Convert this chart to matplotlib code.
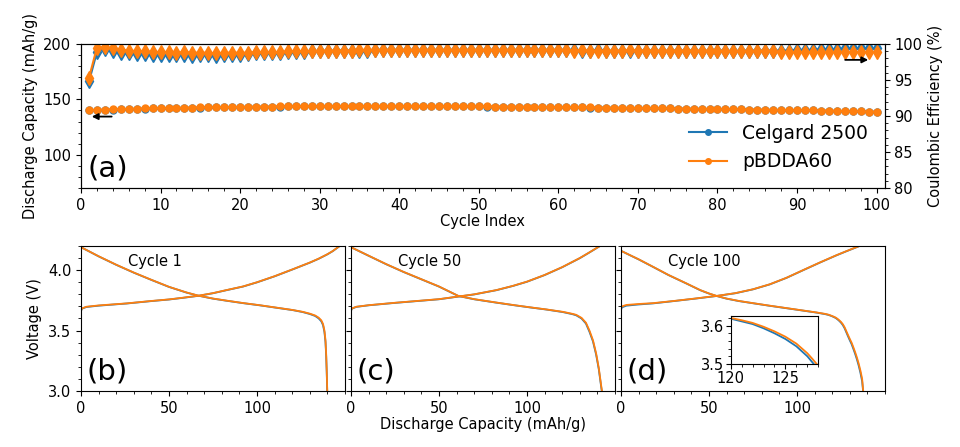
import numpy as np
import matplotlib
matplotlib.use("Agg")
import matplotlib.pyplot as plt
from matplotlib.ticker import MultipleLocator

# =========================
# DATA
# =========================
cycles = np.arange(1, 101)

cap_pbdda = [
    140.3, 140.6, 140.8, 141.0, 141.2, 141.4, 141.6, 141.8, 141.9, 142.1,
    142.2, 142.3, 142.5, 142.6, 142.7, 142.8, 142.9, 143.0, 143.1, 143.2,
    143.3, 143.4, 143.4, 143.5, 143.6, 143.6, 143.7, 143.7, 143.8, 143.8,
    143.9, 143.9, 143.9, 144.0, 144.0, 144.0, 144.0, 144.0, 144.0, 144.0,
    144.0, 144.0, 143.9, 143.9, 143.9, 143.8, 143.8, 143.7, 143.7, 143.6,
    143.6, 143.5, 143.5, 143.4, 143.3, 143.3, 143.2, 143.1, 143.1, 143.0,
    142.9, 142.8, 142.8, 142.7, 142.6, 142.5, 142.4, 142.4, 142.3, 142.2,
    142.1, 142.0, 141.9, 141.8, 141.7, 141.6, 141.5, 141.4, 141.3, 141.2,
    141.1, 141.0, 140.9, 140.8, 140.7, 140.6, 140.5, 140.4, 140.3, 140.2,
    140.1, 140.0, 139.9, 139.8, 139.6, 139.5, 139.3, 139.2, 139.0, 138.9,
]
cap_celgard = [
    140.0, 140.4, 140.6, 140.8, 141.0, 141.3, 141.5, 141.7, 141.8, 142.0,
    142.1, 142.2, 142.4, 142.5, 142.6, 142.7, 142.8, 142.9, 143.0, 143.1,
    143.2, 143.3, 143.4, 143.4, 143.5, 143.6, 143.6, 143.7, 143.7, 143.8,
    143.8, 143.9, 143.9, 143.9, 144.0, 144.0, 144.0, 144.0, 144.0, 144.0,
    144.0, 143.9, 143.9, 143.9, 143.8, 143.8, 143.8, 143.7, 143.6, 143.6,
    143.5, 143.5, 143.4, 143.4, 143.3, 143.2, 143.2, 143.1, 143.0, 143.0,
    142.9, 142.8, 142.7, 142.6, 142.6, 142.5, 142.4, 142.3, 142.2, 142.2,
    142.1, 142.0, 141.9, 141.8, 141.7, 141.6, 141.5, 141.4, 141.3, 141.2,
    141.1, 141.0, 140.9, 140.8, 140.7, 140.6, 140.5, 140.4, 140.3, 140.2,
    140.1, 140.0, 139.9, 139.7, 139.6, 139.4, 139.3, 139.1, 139.0, 138.8,
]
ce_pbdda = [
    95.3, 99.5, 99.6, 99.4, 99.2, 99.1, 99.0, 99.0, 98.9, 98.9,
    98.9, 98.8, 98.9, 98.8, 98.8, 98.8, 98.7, 98.8, 98.8, 98.8,
    98.8, 98.9, 98.9, 98.9, 98.9, 99.0, 99.0, 99.0, 99.0, 99.1,
    99.1, 99.1, 99.1, 99.1, 99.2, 99.2, 99.2, 99.2, 99.2, 99.2,
    99.2, 99.2, 99.2, 99.2, 99.2, 99.2, 99.2, 99.2, 99.2, 99.2,
    99.2, 99.2, 99.2, 99.2, 99.2, 99.2, 99.2, 99.2, 99.2, 99.2,
    99.2, 99.1, 99.2, 99.1, 99.1, 99.1, 99.1, 99.1, 99.2, 99.1,
    99.1, 99.1, 99.1, 99.1, 99.1, 99.1, 99.1, 99.1, 99.1, 99.1,
    99.0, 99.0, 99.0, 99.0, 99.0, 99.1, 99.0, 98.9, 98.9, 98.9,
    98.9, 98.9, 98.9, 98.9, 98.9, 98.9, 98.9, 98.9, 98.9, 98.9,
]
ce_celgard = [
    94.8, 98.9, 99.3, 99.0, 98.8, 98.7, 98.6, 98.6, 98.5, 98.5,
    98.5, 98.5, 98.5, 98.4, 98.5, 98.5, 98.4, 98.5, 98.5, 98.5,
    98.6, 98.7, 98.7, 98.8, 98.8, 98.9, 98.9, 98.9, 99.0, 99.0,
    99.0, 99.1, 99.1, 99.1, 99.1, 99.1, 99.2, 99.2, 99.2, 99.2,
    99.2, 99.2, 99.2, 99.2, 99.2, 99.2, 99.2, 99.2, 99.2, 99.2,
    99.2, 99.2, 99.2, 99.2, 99.2, 99.2, 99.2, 99.2, 99.2, 99.2,
    99.2, 99.2, 99.1, 99.1, 99.2, 99.1, 99.0, 99.1, 99.1, 99.1,
    99.1, 99.1, 99.0, 99.1, 99.1, 99.1, 99.1, 99.0, 99.1, 99.1,
    99.1, 99.0, 99.1, 99.1, 99.1, 99.1, 99.1, 99.1, 99.1, 99.2,
    99.2, 99.2, 99.3, 99.3, 99.3, 99.4, 99.4, 99.4, 99.4, 99.4,
]

# voltage profiles: capacity grid + voltage per separator
c1_chg_cap = [0, 0.5, 3, 10, 26, 40, 50, 58, 66.5, 75, 82.6, 92, 100, 110, 120.4,
              130, 135, 140, 143, 146, 147]
c1_chg_v_pbdda = [3.665, 3.683, 3.697, 3.708, 3.725, 3.745, 3.758, 3.772, 3.788, 3.81,
                  3.835, 3.865, 3.90, 3.95, 4.008, 4.063, 4.095, 4.132, 4.158, 4.19, 4.20]
c1_chg_v_celgard = [3.662, 3.681, 3.695, 3.706, 3.724, 3.744, 3.757, 3.771, 3.787, 3.809,
                    3.834, 3.864, 3.899, 3.949, 4.007, 4.062, 4.094, 4.131, 4.157, 4.189, 4.20]
c1_dis_cap = [0, 10, 20, 30, 40, 50, 60, 66.5, 75, 82.6, 92, 101.5, 110, 120.4, 126,
              130, 133, 135, 136.5, 137.5, 138.3, 138.9, 139.3, 139.6, 139.9]
c1_dis_v_pbdda = [4.19, 4.115, 4.045, 3.98, 3.92, 3.862, 3.815, 3.79, 3.765, 3.748,
                  3.728, 3.71, 3.692, 3.67, 3.655, 3.64, 3.625, 3.607, 3.585, 3.555,
                  3.50, 3.42, 3.30, 3.17, 3.0]
c1_dis_v_celgard = [4.19, 4.114, 4.044, 3.979, 3.919, 3.861, 3.814, 3.789, 3.764, 3.747,
                    3.727, 3.709, 3.691, 3.669, 3.653, 3.637, 3.621, 3.601, 3.577, 3.545,
                    3.488, 3.405, 3.285, 3.155, 2.99]

c50_chg_cap = [0, 0.5, 3, 10, 25, 40, 50, 60, 70, 82.6, 92, 100, 110, 120, 130, 135,
               140.3, 141.5]
c50_chg_v_pbdda = [3.665, 3.683, 3.697, 3.71, 3.73, 3.748, 3.76, 3.78, 3.80, 3.835,
                   3.87, 3.905, 3.96, 4.025, 4.10, 4.143, 4.19, 4.20]
c50_chg_v_celgard = [3.663, 3.681, 3.696, 3.709, 3.729, 3.747, 3.759, 3.779, 3.799, 3.834,
                     3.869, 3.904, 3.959, 4.024, 4.099, 4.142, 4.189, 4.20]
c50_dis_cap = [0, 10, 20, 30, 40, 50, 61, 70, 82.6, 92, 101.5, 111, 120.4, 126, 128,
               131, 133.5, 135.5, 137.5, 139.3, 140.8, 142.2, 142.6]
c50_dis_v_pbdda = [4.19, 4.12, 4.05, 3.985, 3.925, 3.865, 3.787, 3.76, 3.732, 3.712,
                   3.693, 3.675, 3.655, 3.638, 3.63, 3.605, 3.565, 3.50, 3.42, 3.31,
                   3.19, 3.04, 3.0]
c50_dis_v_celgard = [4.19, 4.119, 4.049, 3.984, 3.924, 3.864, 3.786, 3.759, 3.731, 3.711,
                     3.692, 3.674, 3.653, 3.635, 3.626, 3.600, 3.558, 3.49, 3.41, 3.30,
                     3.18, 3.03, 2.99]

c100_chg_cap = [0, 0.5, 3, 10, 18.3, 30, 42, 54.3, 65, 75, 84.5, 94, 103.4, 112.9,
                122.3, 128, 133.7, 135.5]
c100_chg_v_pbdda = [3.685, 3.70, 3.712, 3.72, 3.727, 3.745, 3.765, 3.787, 3.81, 3.842,
                    3.883, 3.937, 4.0, 4.063, 4.123, 4.157, 4.19, 4.20]
c100_chg_v_celgard = [3.672, 3.692, 3.706, 3.716, 3.725, 3.744, 3.764, 3.786, 3.809, 3.841,
                      3.882, 3.936, 3.999, 4.062, 4.122, 4.156, 4.189, 4.20]
c100_dis_cap = [0, 5, 10, 18.3, 27, 37.2, 45, 50, 54.3, 60, 67, 75, 84, 94, 103, 111,
                116, 118, 120, 121, 122, 123, 124, 125, 126, 127, 127.5, 128, 129, 130,
                131, 132, 133, 134, 135, 136, 137, 137.6]
c100_dis_v_pbdda = [4.16, 4.125, 4.09, 4.027, 3.96, 3.89, 3.835, 3.807, 3.787, 3.765,
                    3.745, 3.727, 3.707, 3.686, 3.667, 3.65, 3.638, 3.631, 3.62, 3.614,
                    3.607, 3.597, 3.585, 3.571, 3.553, 3.528, 3.512, 3.495, 3.462, 3.43,
                    3.40, 3.362, 3.322, 3.278, 3.228, 3.17, 3.10, 3.0]
c100_dis_v_celgard = [4.16, 4.124, 4.089, 4.026, 3.959, 3.889, 3.834, 3.806, 3.786, 3.764,
                      3.744, 3.726, 3.706, 3.685, 3.666, 3.649, 3.636, 3.629, 3.618, 3.611,
                      3.604, 3.593, 3.580, 3.565, 3.546, 3.520, 3.503, 3.486, 3.452, 3.419,
                      3.388, 3.349, 3.308, 3.263, 3.212, 3.152, 3.08, 2.99]

BLUE = "#1f77b4"
ORANGE = "#ff7f0e"


def main():
    fig = plt.figure(figsize=(9.6, 4.47), dpi=100)

    # ---- (a) cycling ----
    ax = fig.add_axes([0.0844, 0.5794, 0.8370, 0.3221])
    ax2 = ax.twinx()

    l1, = ax.plot(cycles, cap_celgard, "-o", color=BLUE, ms=5, lw=1.5, label="Celgard 2500")
    l2, = ax.plot(cycles, cap_pbdda, "-o", color=ORANGE, ms=5, lw=1.5, label="pBDDA60")
    ax2.plot(cycles, ce_celgard, "-d", color=BLUE, ms=7.5, lw=1.5)
    ax2.plot(cycles, ce_pbdda, "-d", color=ORANGE, ms=7.5, lw=1.5)

    ax.set_xlim(0, 101)
    ax.set_ylim(70, 200)
    ax2.set_ylim(80, 100)
    ax.set_yticks([100, 150, 200])
    ax2.set_yticks([80, 85, 90, 95, 100])
    ax.xaxis.set_major_locator(MultipleLocator(10))
    ax.xaxis.set_minor_locator(MultipleLocator(2))
    ax.yaxis.set_minor_locator(MultipleLocator(10))
    ax2.yaxis.set_minor_locator(MultipleLocator(1))
    ax.tick_params(labelsize=10.5)
    ax2.tick_params(labelsize=10.5)
    ax.set_xlabel("Cycle Index", fontsize=10.5, labelpad=1)
    ax.set_ylabel("Discharge Capacity (mAh/g)", fontsize=10.5)
    ax2.set_ylabel("Coulombic Efficiency (%)", fontsize=10.5)

    ax.annotate("", xy=(1.0, 134.5), xytext=(4.2, 134.5),
                arrowprops=dict(arrowstyle="-|>", color="k", lw=1.3, mutation_scale=9))
    ax2.annotate("", xy=(99.3, 97.8), xytext=(95.7, 97.8),
                 arrowprops=dict(arrowstyle="-|>", color="k", lw=1.3, mutation_scale=9))

    ax.text(0.008, 0.04, "(a)", transform=ax.transAxes, fontsize=21, va="bottom")
    ax2.legend(handles=[l1, l2], loc="lower right", frameon=False, fontsize=13.5,
               markerscale=0.8, handlelength=2.0)

    # ---- (b)-(d) voltage profiles ----
    panels = [
        ("Cycle 1", "(b)", c1_chg_cap, c1_chg_v_celgard, c1_chg_v_pbdda,
         c1_dis_cap, c1_dis_v_celgard, c1_dis_v_pbdda),
        ("Cycle 50", "(c)", c50_chg_cap, c50_chg_v_celgard, c50_chg_v_pbdda,
         c50_dis_cap, c50_dis_v_celgard, c50_dis_v_pbdda),
        ("Cycle 100", "(d)", c100_chg_cap, c100_chg_v_celgard, c100_chg_v_pbdda,
         c100_dis_cap, c100_dis_v_celgard, c100_dis_v_pbdda),
    ]
    lefts = [0.0844, 0.3656, 0.6469]
    axes = []
    for i, (title, tag, ccap, cvb, cvo, dcap, dvb, dvo) in enumerate(panels):
        a = fig.add_axes([lefts[i], 0.1253, 0.275, 0.3244])
        a.plot(ccap, cvb, color=BLUE, lw=1.3)
        a.plot(dcap, dvb, color=BLUE, lw=1.3)
        a.plot(ccap, cvo, color=ORANGE, lw=1.3)
        a.plot(dcap, dvo, color=ORANGE, lw=1.3)
        a.set_xlim(0, 150)
        a.set_ylim(3.0, 4.2)
        a.set_xticks([0, 50, 100])
        a.xaxis.set_minor_locator(MultipleLocator(10))
        a.set_yticks([3.0, 3.5, 4.0])
        a.yaxis.set_minor_locator(MultipleLocator(0.1))
        a.tick_params(labelsize=10.5)
        if i > 0:
            a.tick_params(labelleft=False)
        a.text(0.177, 0.89, title, transform=a.transAxes, fontsize=10.5,
               ha="left", va="center")
        a.text(0.02, 0.04, tag, transform=a.transAxes, fontsize=21, va="bottom")
        axes.append(a)

    axes[0].set_ylabel("Voltage (V)", fontsize=10.5)
    axes[1].set_xlabel("Discharge Capacity (mAh/g)", fontsize=10.5, labelpad=1)

    # inset on cycle 100
    ins = fig.add_axes([0.7611, 0.1857, 0.0913, 0.1074])
    ins.plot(c100_dis_cap, c100_dis_v_celgard, color=BLUE, lw=1.3)
    ins.plot(c100_dis_cap, c100_dis_v_pbdda, color=ORANGE, lw=1.3)
    ins.set_xlim(120, 128)
    ins.set_ylim(3.5, 3.625)
    ins.set_xticks([120, 125])
    ins.xaxis.set_minor_locator(MultipleLocator(1))
    ins.set_yticks([3.5, 3.6])
    ins.yaxis.set_minor_locator(MultipleLocator(0.02))
    ins.tick_params(labelsize=10.5, pad=1.5)

    fig.savefig("out.png", dpi=100)


if __name__ == "__main__":
    main()
